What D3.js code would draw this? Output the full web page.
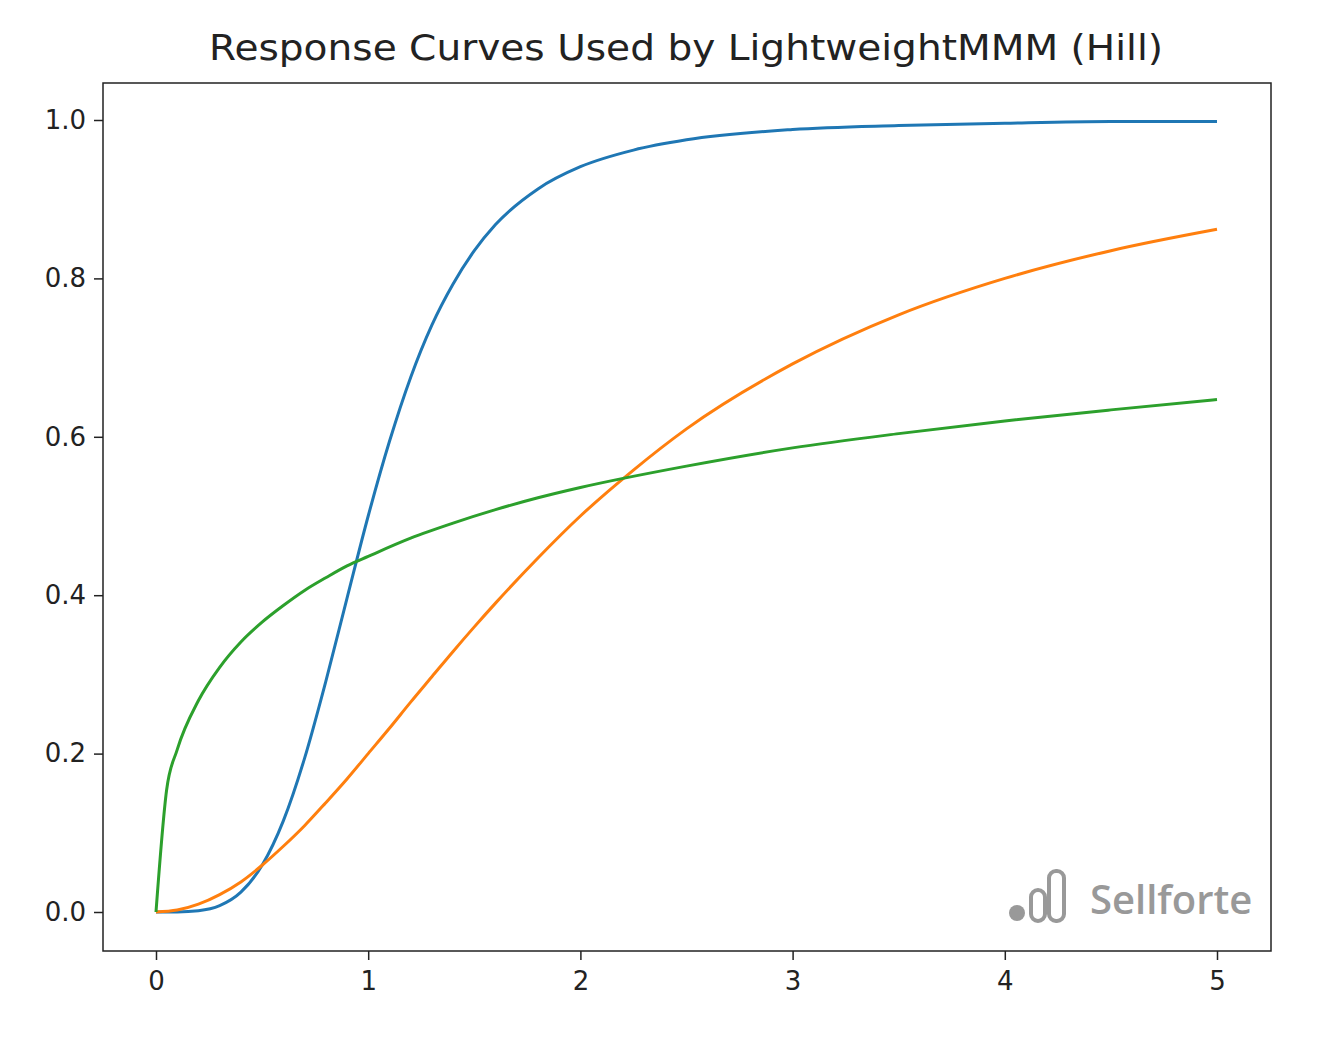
<!DOCTYPE html>
<html><head><meta charset="utf-8">
<script src="https://cdn.jsdelivr.net/npm/d3@7"></script>
<style>body{margin:0;background:#fff}</style>
</head><body>
<svg id="chart" width="1336" height="1040"></svg>
<script>
// values
const xsFine = [0,0.1,0.2,0.3,0.4,0.5,0.6,0.7,0.8,0.9,1.0,1.1,1.2,1.3,1.4,1.5,1.6,1.8,2.0,2.25,2.5,3,3.5,4,4.5,5];
const blueY = [0,0.0001,0.0016,0.008,0.025,0.059,0.115,0.194,0.291,0.396,0.5,0.594,0.675,0.741,0.793,0.835,0.868,0.913,0.941,0.962,0.975,0.988,0.993,0.996,0.998,0.998];
const orangeY = [0,0.0025,0.0099,0.022,0.038,0.059,0.083,0.109,0.138,0.168,0.2,0.232,0.265,0.297,0.329,0.36,0.39,0.447,0.5,0.558,0.61,0.692,0.754,0.8,0.835,0.862];
const xsGreen = [0,0.05,0.1,0.2,0.3,0.4,0.5,0.6,0.7,0.8,0.9,1.0,1.2,1.4,1.6,1.8,2.0,2.5,3,3.5,4,4.5,5];
const greenY = [0,0.154,0.205,0.267,0.309,0.341,0.366,0.387,0.406,0.422,0.437,0.449,0.472,0.491,0.508,0.523,0.536,0.563,0.586,0.604,0.620,0.634,0.647];
const xTicks = [0,1,2,3,4,5];
const yTicks = [0,0.2,0.4,0.6,0.8,1.0];

const svg = d3.select("#chart");
const pLeft = 103, pRight = 1271, pTop = 83, pBottom = 951;
const x = d3.scaleLinear().domain([0, 5]).range([156, 1217]);
const y = d3.scaleLinear().domain([0, 1]).range([912, 120]);
const font = "DejaVu Sans, sans-serif";

svg.append("text").attr("x", 686).attr("y", 60)
    .attr("text-anchor", "middle").attr("font-family", font).attr("font-size", 36)
    .attr("textLength", 954).attr("lengthAdjust", "spacingAndGlyphs")
    .attr("fill", "#222").text("Response Curves Used by LightweightMMM (Hill)");

// watermark
const wm = svg.append("g").attr("fill", "none").attr("stroke", "#999").attr("stroke-width", 4);
wm.append("circle").attr("cx", 1017).attr("cy", 913).attr("r", 8).attr("fill", "#999").attr("stroke", "none");
wm.append("rect").attr("x", 1031).attr("y", 890).attr("width", 14).attr("height", 31).attr("rx", 7);
wm.append("rect").attr("x", 1049).attr("y", 871).attr("width", 15).attr("height", 50).attr("rx", 7);
svg.append("text").attr("x", 1090).attr("y", 914).attr("font-family", "Open Sans, sans-serif")
    .attr("font-size", 40).attr("fill", "#999").attr("font-weight", 600).text("Sellforte");

const line = d3.line().x(d => x(d[0])).y(d => y(d[1])).curve(d3.curveMonotoneX);
const series = [
    {xs: xsFine, ys: blueY, color: "#1f77b4"},
    {xs: xsFine, ys: orangeY, color: "#ff7f0e"},
    {xs: xsGreen, ys: greenY, color: "#2ca02c"}
];
series.forEach(s => {
    svg.append("path").datum(s.xs.map((v, i) => [v, s.ys[i]]))
        .attr("d", line).attr("fill", "none").attr("stroke", s.color).attr("stroke-width", 3);
});

const xAxis = svg.append("g").attr("transform", `translate(0,${pBottom})`)
    .call(d3.axisBottom(x).tickValues(xTicks).tickFormat(d3.format("d")).tickSize(9).tickPadding(12));
const yAxis = svg.append("g").attr("transform", `translate(${pLeft},0)`)
    .call(d3.axisLeft(y).tickValues(yTicks).tickFormat(d3.format(".1f")).tickSize(9).tickPadding(8));
[xAxis, yAxis].forEach(a => {
    a.select(".domain").remove();
    a.selectAll("text").attr("font-family", font).attr("font-size", 26).attr("fill", "#222");
    a.selectAll("line").attr("stroke", "#222").attr("stroke-width", 1.5);
});

svg.append("rect").attr("x", pLeft).attr("y", pTop).attr("width", pRight - pLeft).attr("height", pBottom - pTop)
    .attr("fill", "none").attr("stroke", "#222").attr("stroke-width", 1.5);
</script>
</body></html>
